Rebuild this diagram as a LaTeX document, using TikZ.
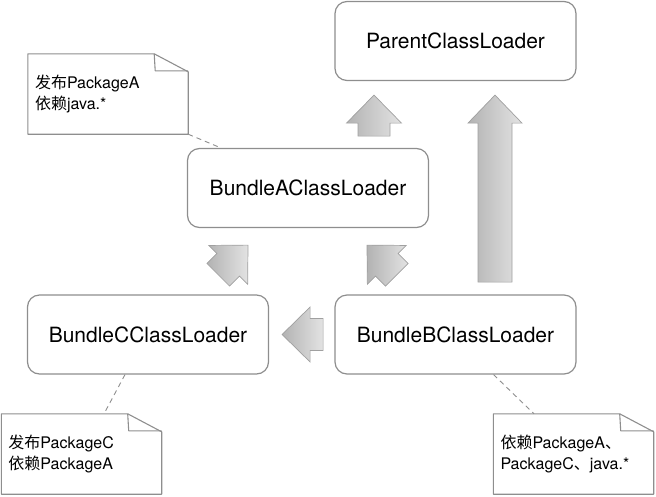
\documentclass[tikz,border=0pt]{standalone}
\usepackage{fontspec}
\setmainfont{TeX Gyre Heros}
\newfontfamily\cjk{Noto Sans CJK SC}
\usepackage{tikz}
\usetikzlibrary{calc}
\definecolor{boxgray}{RGB}{142,142,142}
\definecolor{arrowgray}{RGB}{160,160,160}
\tikzset{
    loader/.style={draw=boxgray, line width=1.2pt, rounded corners=12pt,
        minimum width=241pt, minimum height=79pt, fill=white,
        font=\fontsize{21}{25}\selectfont},
    notebox/.style={minimum width=160pt, minimum height=80pt, text width=146pt,
        inner xsep=7pt, inner ysep=0pt, align=left,
        font=\fontsize{16}{21}\selectfont},
    noteline/.style={draw=boxgray, line width=1.1pt, line join=round},
    notelink/.style={draw=boxgray, line width=0.9pt, dash pattern=on 5pt off 4pt},
    blockarrow/.style={draw=arrowgray, line width=0.7pt, line join=miter,
        left color=gray!60, right color=gray!22},
}
% block arrow, tip at the origin, pointing up
\newcommand{\fatarrow}[1]{
    \draw[blockarrow] (0,0) -- (27.5,-28) -- (16,-28) -- (16,-#1)
        -- (-16,-#1) -- (-16,-28) -- (-27.5,-28) -- cycle;}
% note outline with folded corner
\newcommand{\dogear}[1]{
    \draw[noteline] (#1.north west) -- ($(#1.north east)+(-34,0)$)
        -- ($(#1.north east)+(0,-18)$) -- (#1.south east)
        -- (#1.south west) -- cycle;
    \draw[noteline] ($(#1.north east)+(-34,0)$) -- ($(#1.north east)+(-33,-17)$)
        -- ($(#1.north east)+(0,-17)$);}

\begin{document}
\begin{tikzpicture}[x=1pt, y=1pt]
	\useasboundingbox (0,0) rectangle (656,-496);
	% class loaders
	\node[loader] (parent) at (455.5,-41) {ParentClassLoader};
	\node[loader] (bundleA) at (308,-188) {BundleAClassLoader};
	\node[loader] (bundleC) at (148,-334.5) {BundleCClassLoader};
	\node[loader] (bundleB) at (455.5,-334.5) {BundleBClassLoader};
	% notes
	\node[notebox] (noteA) at (108,-94) {{\cjk 发布}PackageA\\{\cjk 依赖}java.*};
	\node[notebox] (noteC) at (81.5,-454) {{\cjk 发布}PackageC\\{\cjk 依赖}PackageA};
	\node[notebox] (noteB) at (573.5,-454) {{\cjk 依赖}PackageA{\cjk 、}\\PackageC{\cjk 、}java.*};
	\dogear{noteA}
	\dogear{noteC}
	\dogear{noteB}
	\draw[notelink] (noteA.south east) -- ($(bundleA.north west)+(34,0)$);
	\draw[notelink] ($(bundleC.south)+(-23,0)$) -- ($(noteC.north)+(22.5,0)$);
	\draw[notelink] ($(bundleB.south)+(38,0)$) -- ($(noteB.north)+(-39.5,0)$);
	% delegation arrows
\begin{scope}[shift={($(parent.south)+(-81.5,-14)$)}]
	\fatarrow{41}
\end{scope}
\begin{scope}[shift={($(parent.south)+(39.5,-14)$)}]
	\draw[blockarrow] (0,0) -- (27,-28) -- (17,-28) -- (17,-187)
		-- (-17,-187) -- (-17,-28) -- (-27,-28) -- cycle;
\end{scope}
\begin{scope}[shift={($(bundleA.south)+(-60,-17)$)}, rotate=-45]
	\fatarrow{42}
\end{scope}
\begin{scope}[shift={($(bundleA.south)+(59,-17)$)}, rotate=45]
	\fatarrow{42}
\end{scope}
\begin{scope}[shift={($(bundleC.east)+(13,0)$)}, rotate=90]
	\fatarrow{41}
\end{scope}
\end{tikzpicture}
\end{document}
